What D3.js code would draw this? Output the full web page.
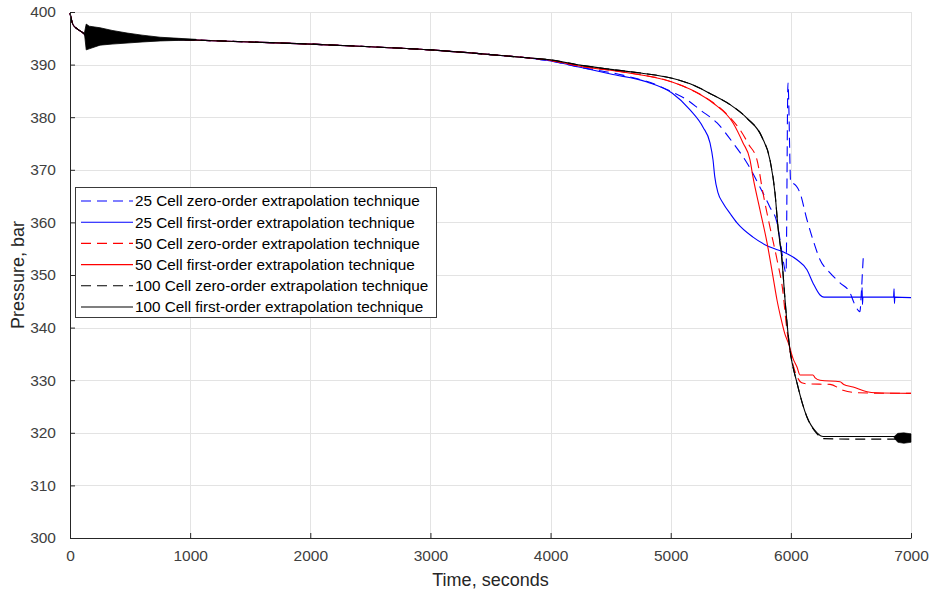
<!DOCTYPE html>
<html>
<head>
<meta charset="utf-8">
<script src="https://cdn.jsdelivr.net/npm/d3@7"></script>
<style>
  body { margin: 0; background: #fff; }
  svg { display: block; }
  text { font-family: "Liberation Sans", Arial, Helvetica, sans-serif; }
</style>
</head>
<body>
<svg id="chart" width="933" height="594"></svg>
<script>
// ---- axis ticks ----
const xTicks = [0, 1000, 2000, 3000, 4000, 5000, 6000, 7000];
const yTicks = [300, 310, 320, 330, 340, 350, 360, 370, 380, 390, 400];

// ---- shared early history (all runs coincide) ----
const earlyTime     = [0, 25, 60, 110, 140, 250, 500, 750, 1000, 1500, 2000, 2500, 3000, 3500, 3800];
const earlyPressure = [399.8, 397.6, 396.8, 396.0, 395.4, 395.3, 395.1, 394.9, 394.7, 394.3, 393.9, 393.4, 392.8, 391.9, 391.3];

// start-up pressure oscillation envelope
const startBandTime = [120, 135, 160, 250, 350, 475, 600, 750, 900, 1050];
const startBandHigh = [396.0, 397.7, 397.3, 397.0, 396.5, 396.0, 395.6, 395.2, 395.0, 394.8];
const startBandLow  = [396.0, 392.8, 393.0, 393.7, 393.9, 394.1, 394.3, 394.5, 394.6, 394.7];

// late oscillation of the 100-cell runs
const endBandTime = [6860, 6890, 6940, 7000];
const endBandHigh = [319.3, 319.9, 320.0, 319.8];
const endBandLow  = [319.0, 318.2, 318.0, 318.2];

// ---- 25 cells ----
const cell25ZeroTime = [4000, 4245, 4600, 4886, 5011, 5136, 5244, 5386, 5519, 5635, 5743, 5826, 5885, 5910, 5935, 5960, 5976, 5999, 6020, 6076, 6134, 6184, 6243, 6326, 6409, 6493, 6526, 6559, 6575, 6585, 6600, 6605];
const cell25ZeroP    = [390.7, 389.5, 388.0, 386.1, 384.8, 383.3, 381.4, 378.9, 375.1, 371.3, 366.7, 362.9, 359.9, 356.7, 352.9, 350.4, 386.5, 367.5, 367.4, 365.6, 360.5, 356.7, 352.9, 350.4, 348.5, 346.6, 344.7, 343.3, 343.0, 346.0, 352.3, 354.2];

const cell25FirstTime = [4000, 4245, 4500, 4803, 5011, 5161, 5269, 5327, 5352, 5366, 5394, 5435, 5500, 5552, 5685, 5826, 5935, 6051, 6134, 6184, 6243, 6275, 6590, 6593, 6596, 6600, 6855, 6859, 6862, 6866, 7000];
const cell25FirstP    = [390.7, 389.5, 388.2, 386.7, 384.6, 381.4, 378.1, 375.1, 371.9, 368.8, 365.6, 363.7, 361.5, 359.9, 357.2, 355.3, 354.4, 352.9, 351.0, 348.5, 346.2, 345.8, 345.8, 347.6, 344.4, 345.8, 345.8, 347.4, 344.6, 345.8, 345.7];

// ---- 50 cells ----
const cell50ZeroTime = [4000, 4245, 4600, 5011, 5200, 5352, 5500, 5577, 5650, 5718, 5768, 5826, 5885, 5935, 5960, 5990, 6030, 6060, 6090, 6134, 6326, 6434, 6560, 7000];
const cell50ZeroP    = [390.8, 389.7, 388.6, 386.7, 384.9, 382.8, 379.8, 377.6, 374.8, 371.9, 365.6, 359.1, 352.9, 346.6, 341.0, 336.0, 332.0, 330.3, 329.5, 329.3, 329.2, 328.1, 327.6, 327.5];

const cell50FirstTime = [4000, 4245, 4600, 5011, 5200, 5352, 5519, 5602, 5660, 5685, 5743, 5802, 5852, 5885, 5915, 5950, 5980, 6020, 6051, 6076, 6184, 6200, 6243, 6409, 6440, 6518, 6634, 6700, 7000];
const cell50FirstP    = [390.8, 389.7, 388.6, 386.7, 384.9, 382.7, 378.9, 375.1, 371.9, 368.6, 362.4, 356.1, 349.6, 345.2, 342.0, 338.8, 337.0, 334.0, 332.5, 331.0, 331.0, 330.5, 330.0, 329.7, 329.2, 328.7, 327.8, 327.6, 327.5];

// ---- 100 cells ----
const cell100ZeroTime = [4000, 4245, 4500, 4750, 5011, 5200, 5352, 5500, 5635, 5760, 5826, 5868, 5893, 5926, 5948, 5976, 5993, 6051, 6134, 6218, 6268, 6500, 7000];
const cell100ZeroP    = [390.9, 389.9, 389.1, 388.4, 387.4, 386.0, 384.2, 382.3, 379.8, 376.2, 371.9, 365.6, 359.1, 352.9, 346.3, 339.0, 335.7, 329.5, 323.0, 319.8, 318.9, 318.8, 318.8];

const cell100FirstTime = [4000, 4245, 4500, 4750, 5011, 5200, 5352, 5500, 5635, 5760, 5826, 5868, 5893, 5926, 5948, 5976, 5993, 6051, 6134, 6218, 6268, 6500, 7000];
const cell100FirstP    = [390.9, 389.9, 389.1, 388.4, 387.4, 386.0, 384.2, 382.3, 379.8, 376.2, 371.9, 365.6, 359.1, 352.9, 346.3, 339.0, 335.7, 329.5, 323.0, 320.0, 319.3, 319.3, 319.3];

const seriesNames = [
  "25 Cell zero-order extrapolation technique",
  "25 Cell first-order extrapolation technique",
  "50 Cell zero-order extrapolation technique",
  "50 Cell first-order extrapolation technique",
  "100 Cell zero-order extrapolation technique",
  "100 Cell first-order extrapolation technique"
];
const seriesColors = ["#0000ff", "#0000ff", "#ff0000", "#ff0000", "#000000", "#000000"];
const seriesDashed = [true, false, true, false, true, false];

const toPoints = (t, p) => t.map((d, i) => [d, p[i]]);
const early = toPoints(earlyTime, earlyPressure);
const series = [
  toPoints(cell25ZeroTime, cell25ZeroP),
  toPoints(cell25FirstTime, cell25FirstP),
  toPoints(cell50ZeroTime, cell50ZeroP),
  toPoints(cell50FirstTime, cell50FirstP),
  toPoints(cell100ZeroTime, cell100ZeroP),
  toPoints(cell100FirstTime, cell100FirstP)
].map(tail => early.concat(tail));

// ---- layout ----
const svg = d3.select("#chart");
const plotLeft = 70, plotRight = 911, plotTop = 12, plotBottom = 538;
const x = d3.scaleLinear().domain([0, 7000]).range([plotLeft, plotRight]);
const y = d3.scaleLinear().domain([300, 400]).range([plotBottom, plotTop]);

// grid
const grid = svg.append("g").attr("stroke", "#e3e3e3").attr("stroke-width", 1);
grid.selectAll("line.vx").data(xTicks).join("line").attr("class", "vx")
  .attr("x1", d => Math.round(x(d)) + 0.5).attr("x2", d => Math.round(x(d)) + 0.5)
  .attr("y1", plotTop).attr("y2", plotBottom);
grid.selectAll("line.hy").data(yTicks).join("line").attr("class", "hy")
  .attr("y1", d => Math.round(y(d)) + 0.5).attr("y2", d => Math.round(y(d)) + 0.5)
  .attr("x1", plotLeft).attr("x2", plotRight);

// data lines
const plot = svg.append("g");
const line = d3.line().curve(d3.curveMonotoneX).x(d => x(d[0])).y(d => y(d[1]));
series.forEach((pts, i) => {
  plot.append("path")
    .attr("d", line(pts))
    .attr("fill", "none")
    .attr("stroke", seriesColors[i])
    .attr("stroke-width", 1.1)
    .attr("stroke-linejoin", "round")
    .attr("stroke-dasharray", seriesDashed[i] ? "10,6" : null);
});

// oscillation bands
const band = d3.area().x(d => x(d[0])).y0(d => y(d[2])).y1(d => y(d[1]));
plot.append("path")
  .attr("d", band(startBandTime.map((t, i) => [t, startBandHigh[i], startBandLow[i]])))
  .attr("fill", "#000").attr("stroke", "#000").attr("stroke-width", 0.8);
plot.append("path")
  .attr("d", band(endBandTime.map((t, i) => [t, endBandHigh[i], endBandLow[i]])))
  .attr("fill", "#000").attr("stroke", "#000").attr("stroke-width", 0.6);

// axes
const axisColor = "#262626";
const gx = svg.append("g").attr("transform", `translate(0,${plotBottom})`)
  .call(d3.axisBottom(x).tickValues(xTicks).tickFormat(d3.format("d")).tickSizeInner(-5).tickSizeOuter(0).tickPadding(12));
const gy = svg.append("g").attr("transform", `translate(${plotLeft},0)`)
  .call(d3.axisLeft(y).tickValues(yTicks).tickFormat(d3.format("d")).tickSizeInner(-5).tickSizeOuter(0).tickPadding(14));
[gx, gy].forEach(g => {
  g.select(".domain").attr("stroke", axisColor);
  g.selectAll(".tick line").attr("stroke", axisColor);
  g.selectAll(".tick text").attr("fill", "#404040").attr("font-size", 15.5)
    .attr("font-family", "'Liberation Sans', Arial, sans-serif");
});

// axis titles
svg.append("text").attr("x", (plotLeft + plotRight) / 2).attr("y", 586)
  .attr("text-anchor", "middle").attr("font-size", 18).attr("fill", "#262626")
  .text("Time, seconds");
svg.append("text").attr("transform", `translate(24,${(plotTop + plotBottom) / 2}) rotate(-90)`)
  .attr("text-anchor", "middle").attr("font-size", 18).attr("fill", "#262626")
  .text("Pressure, bar");

// legend
const lg = svg.append("g");
lg.append("rect").attr("x", 75.5).attr("y", 187.5).attr("width", 361).attr("height", 130)
  .attr("fill", "#fff").attr("stroke", "#3a3a3a").attr("stroke-width", 1);
seriesNames.forEach((name, i) => {
  const cy = 201 + i * 21.2;
  lg.append("line").attr("x1", 81).attr("x2", 133).attr("y1", cy).attr("y2", cy)
    .attr("stroke", seriesColors[i]).attr("stroke-width", 1.1)
    .attr("stroke-dasharray", seriesDashed[i] ? "10,6" : null);
  lg.append("text").attr("x", 135).attr("y", cy).attr("dy", "0.35em")
    .attr("font-size", 15.3).attr("fill", "#000").text(name);
});
</script>
</body>
</html>
